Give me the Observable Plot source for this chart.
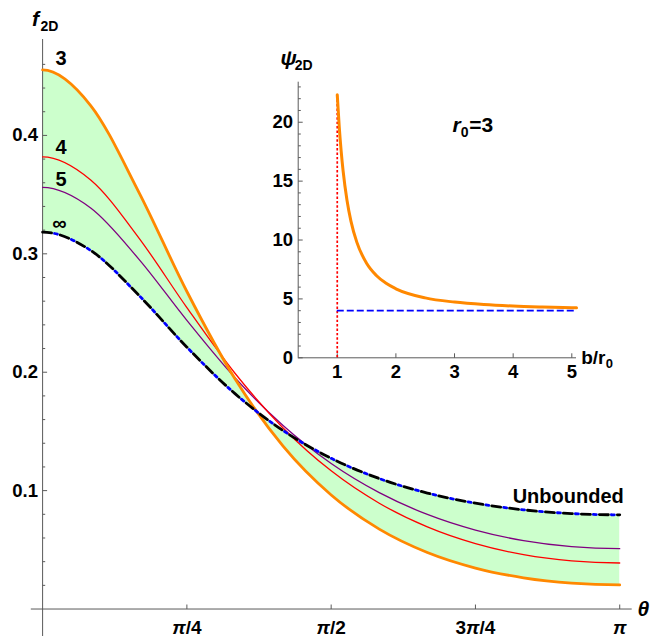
<!DOCTYPE html>
<html><head><meta charset="utf-8">
<script src="https://cdn.jsdelivr.net/npm/d3@7"></script>
<script src="https://cdn.jsdelivr.net/npm/@observablehq/plot@0.6"></script>
<style>
body{margin:0;background:#fff;}
#wrap{position:relative;width:651px;height:636px;}
#inset{position:absolute;left:260px;top:55px;}
</style></head><body><div id="wrap"><div id="main"></div><div id="inset"></div></div>
<script>
// ---- main panel data (theta in radians) ----
const theta = [0, 0.261799, 0.523599, 0.785398, 1.047198, 1.308997, 1.570796, 1.832596, 2.094395, 2.356194, 2.617994, 2.879793, 3.141593];
const fUnbounded = [0.318310, 0.302839, 0.265048, 0.221152, 0.181891, 0.150732, 0.127324, 0.110210, 0.097942, 0.089396, 0.083787, 0.080608, 0.079577];
const fB3 = [0.455347, 0.425247, 0.352131, 0.268166, 0.194481, 0.137585, 0.096354, 0.067480, 0.047739, 0.034621, 0.026366, 0.021834, 0.020389];
const fB4 = [0.381829, 0.362300, 0.313520, 0.254532, 0.199111, 0.152908, 0.116694, 0.089359, 0.069346, 0.055230, 0.045904, 0.040609, 0.038894];
const fB5 = [0.356101, 0.338711, 0.295541, 0.243777, 0.195376, 0.154920, 0.122870, 0.098260, 0.079871, 0.066639, 0.057748, 0.052630, 0.050958];
const curveLabels = ["3", "4", "5", "\u221E"];
const xTickValues = [0.785398, 1.570796, 2.356194, 3.141593];
const xTickLabels = ["\u03C0/4", "\u03C0/2", "3\u03C0/4", "\u03C0"];
const yMajorValues = [0.1, 0.2, 0.3, 0.4];
const yMajorLabels = ["0.1", "0.2", "0.3", "0.4"];
const yMinorValues = [0.02, 0.04, 0.06, 0.08, 0.12, 0.14, 0.16, 0.18, 0.22, 0.24, 0.26, 0.28, 0.32, 0.34, 0.36, 0.38, 0.42, 0.44, 0.46];

// ---- inset data ----
const insetRatio = [1, 1.0333, 1.0667, 1.1, 1.1667, 1.2333, 1.3333, 1.5, 1.6667, 1.8333, 2, 2.5, 3, 3.5, 4, 4.5, 5, 5.08];
const insetPsi = [22.33, 19.65, 17.55, 15.86, 13.36, 11.61, 9.82, 8.03, 6.99, 6.32, 5.86, 5.09, 4.73, 4.52, 4.39, 4.31, 4.25, 4.24];
const insetAsymptote = [4];
const insetThreshold = [1];
const insetYMajor = [0, 5, 10, 15, 20];
const insetYMinor = [1, 2, 3, 4, 6, 7, 8, 9, 11, 12, 13, 14, 16, 17, 18, 19, 21, 22, 23];
const insetXMajor = [1, 2, 3, 4, 5];

// ---- styles ----
const FONT = "'Liberation Sans', Arial, Helvetica, sans-serif";
const AX = "#5a5a5a";
const ORANGE = "#ff8800";
const tickRight = L => ({draw(c){ c.moveTo(0,0); c.lineTo(L,0); }});
const tickUp = L => ({draw(c){ c.moveTo(0,0); c.lineTo(0,-L); }});

const rows = theta.map((t,i) => ({t, inf: fUnbounded[i], b3: fB3[i], b4: fB4[i], b5: fB5[i]}));
const n = rows.length;
// even extension (f(-θ)=f(θ), f(2π-θ)=f(θ)) so the open spline has flat ends at 0 and π
const ext = [{...rows[1], t: -rows[1].t}, ...rows, {...rows[n-2], t: 2*Math.PI - rows[n-2].t}];
const labelStart = [fB3[0], fB4[0], fB5[0], fUnbounded[0]];
const labelDy = [-4.5, -2.8, -1.5, -2.5];
const labelDx = [13, 13, 13, 9.6];

const txt = {fontFamily: FONT, fontWeight: "bold", fill: "black"};
const curveLabelMarks = curveLabels.map((s,i) =>
  Plot.text([{f: labelStart[i], s}], {x: 0, y: "f", text: "s", textAnchor: "start", lineAnchor: "bottom", dx: labelDx[i], dy: labelDy[i], fontSize: 20, ...txt}));

const main = Plot.plot({
  width: 651, height: 636,
  marginLeft: 30.8, marginRight: 19.3, marginTop: 39, marginBottom: 0,
  x: {domain: [-0.0615, 3.2095], axis: null},
  y: {domain: [-0.0232, 0.481], axis: null},
  style: {background: "transparent", overflow: "visible", fontFamily: FONT},
  marks: [
    Plot.areaY(ext, {x: "t", y1: "inf", y2: "b3", fill: "#ccffcc", curve: "cardinal-open"}),
    Plot.ruleX([0], {stroke: AX, strokeWidth: 1}),
    Plot.ruleY([0], {stroke: AX, strokeWidth: 1}),
    Plot.dot(yMajorValues, {x: 0, y: d => d, symbol: tickRight(4.5), stroke: AX, fill: "none", strokeWidth: 1}),
    Plot.dot(yMinorValues, {x: 0, y: d => d, symbol: tickRight(2.6), stroke: AX, fill: "none", strokeWidth: 1}),
    Plot.dot(xTickValues, {x: d => d, y: 0, symbol: tickUp(4.5), stroke: AX, fill: "none", strokeWidth: 1}),
    Plot.text(yMajorValues, {x: 0, y: d => d, text: (d,i) => yMajorLabels[i], textAnchor: "end", lineAnchor: "middle", dx: -4.6, fontSize: 18.5, ...txt}),
    Plot.text(xTickValues, {x: d => d, y: 0, text: (d,i) => xTickLabels[i], lineAnchor: "bottom", dy: 24.5, fontSize: 19, ...txt}),
    Plot.line(ext, {x: "t", y: "b5", stroke: "#800080", strokeWidth: 1.3, curve: "cardinal-open"}),
    Plot.line(ext, {x: "t", y: "b4", stroke: "#ff0000", strokeWidth: 1.3, curve: "cardinal-open"}),
    Plot.line(ext, {x: "t", y: "b3", stroke: ORANGE, strokeWidth: 2.8, curve: "cardinal-open"}),
    Plot.line(ext, {x: "t", y: "inf", stroke: "#0000ff", strokeWidth: 2.8, strokeDasharray: "3 15", strokeDashoffset: -12, curve: "cardinal-open"}),
    Plot.line(ext, {x: "t", y: "inf", stroke: "#000000", strokeWidth: 2.8, strokeDasharray: "9 9", curve: "cardinal-open"}),
    ...curveLabelMarks,
    Plot.text([{t: theta[n-1], f: fUnbounded[n-1]}], {x: "t", y: "f", text: () => "Unbounded", textAnchor: "end", lineAnchor: "bottom", dx: 4, dy: -11.6, fontSize: 20, ...txt}),
    Plot.text(["f"], {frameAnchor: "top-left", text: d => d, textAnchor: "start", lineAnchor: "bottom", dx: 0.7, dy: -13.5, fontSize: 21, fontStyle: "italic", ...txt}),
    Plot.text(["2D"], {frameAnchor: "top-left", text: d => d, textAnchor: "start", lineAnchor: "bottom", dx: 9.2, dy: -9, fontSize: 14, ...txt}),
    Plot.text(["\u03B8"], {frameAnchor: "top-left", text: d => d, textAnchor: "start", lineAnchor: "bottom", dx: 606.2, dy: 576.5, fontSize: 21, fontStyle: "italic", ...txt})
  ]
});
document.getElementById("main").appendChild(main);

// render the π of the tick labels in italic, as in the reference
main.querySelectorAll("text").forEach(el => {
  const s = el.textContent;
  if (s.includes("\u03C0") && el.children.length === 0) {
    el.textContent = "";
    s.split(/(\u03C0)/).filter(p => p.length).forEach(p => {
      const ts = document.createElementNS("http://www.w3.org/2000/svg", "tspan");
      if (p === "\u03C0") ts.setAttribute("font-style", "italic");
      ts.textContent = p;
      el.appendChild(ts);
    });
  }
});

// ---- inset ----
const insetRows = insetRatio.map((x,i) => ({x, psi: insetPsi[i]}));
const XMIN = 0.334, XMAX = 5.08, YMAX = 23.4;
const inset = Plot.plot({
  width: 380, height: 340,
  marginLeft: 37.7, marginRight: 64, marginTop: 26.7, marginBottom: 37.7,
  x: {domain: [XMIN, XMAX], axis: null},
  y: {domain: [0, YMAX], axis: null},
  style: {background: "transparent", overflow: "visible", fontFamily: FONT},
  marks: [
    Plot.ruleX([XMIN], {stroke: AX, strokeWidth: 1}),
    Plot.ruleY([0], {stroke: AX, strokeWidth: 1}),
    Plot.dot(insetYMajor, {x: XMIN, y: d => d, symbol: tickRight(4.5), stroke: AX, fill: "none", strokeWidth: 1}),
    Plot.dot(insetYMinor, {x: XMIN, y: d => d, symbol: tickRight(2.6), stroke: AX, fill: "none", strokeWidth: 1}),
    Plot.dot(insetXMajor, {x: d => d, y: 0, symbol: tickUp(4.5), stroke: AX, fill: "none", strokeWidth: 1}),
    Plot.text(insetYMajor, {x: XMIN, y: d => d, text: d => String(d), textAnchor: "end", lineAnchor: "middle", dx: -5.2, fontSize: 18.5, ...txt}),
    Plot.text(insetXMajor, {x: d => d, y: 0, text: d => String(d), lineAnchor: "bottom", dy: 19.7, fontSize: 18.5, ...txt}),
    Plot.ruleX(insetThreshold, {y1: 0, y2: insetPsi[0], stroke: "#ff0000", strokeWidth: 1.7, strokeDasharray: "2.4 2"}),
    Plot.ruleY(insetAsymptote, {x1: insetRatio[0], x2: insetRatio[insetRatio.length-1], stroke: "#0000ff", strokeWidth: 1.8, strokeDasharray: "7 3"}),
    Plot.line(insetRows, {x: "x", y: "psi", stroke: ORANGE, strokeWidth: 3, curve: "monotone-x"}),
    Plot.text(["\u03C8"], {frameAnchor: "top-left", text: d => d, textAnchor: "start", lineAnchor: "bottom", dx: -17.7, dy: -17, fontSize: 21, fontStyle: "italic", ...txt}),
    Plot.text(["2D"], {frameAnchor: "top-left", text: d => d, textAnchor: "start", lineAnchor: "bottom", dx: -3.5, dy: -12.7, fontSize: 14, ...txt}),
    Plot.text(["r"], {frameAnchor: "top-left", text: d => d, textAnchor: "start", lineAnchor: "bottom", dx: 154.3, dy: 49.8, fontSize: 21, fontStyle: "italic", ...txt}),
    Plot.text(["0"], {frameAnchor: "top-left", text: d => d, textAnchor: "start", lineAnchor: "bottom", dx: 162.6, dy: 54.3, fontSize: 14, ...txt}),
    Plot.text(["=3"], {frameAnchor: "top-left", text: d => d, textAnchor: "start", lineAnchor: "bottom", dx: 171, dy: 49.8, fontSize: 21, ...txt}),
    Plot.text(["b/r"], {frameAnchor: "top-left", text: d => d, textAnchor: "start", lineAnchor: "bottom", dx: 283, dy: 281.3, fontSize: 19, ...txt}),
    Plot.text(["0"], {frameAnchor: "top-left", text: d => d, textAnchor: "start", lineAnchor: "bottom", dx: 307.5, dy: 285.5, fontSize: 13, ...txt})
  ]
});
document.getElementById("inset").appendChild(inset);
</script></body></html>
